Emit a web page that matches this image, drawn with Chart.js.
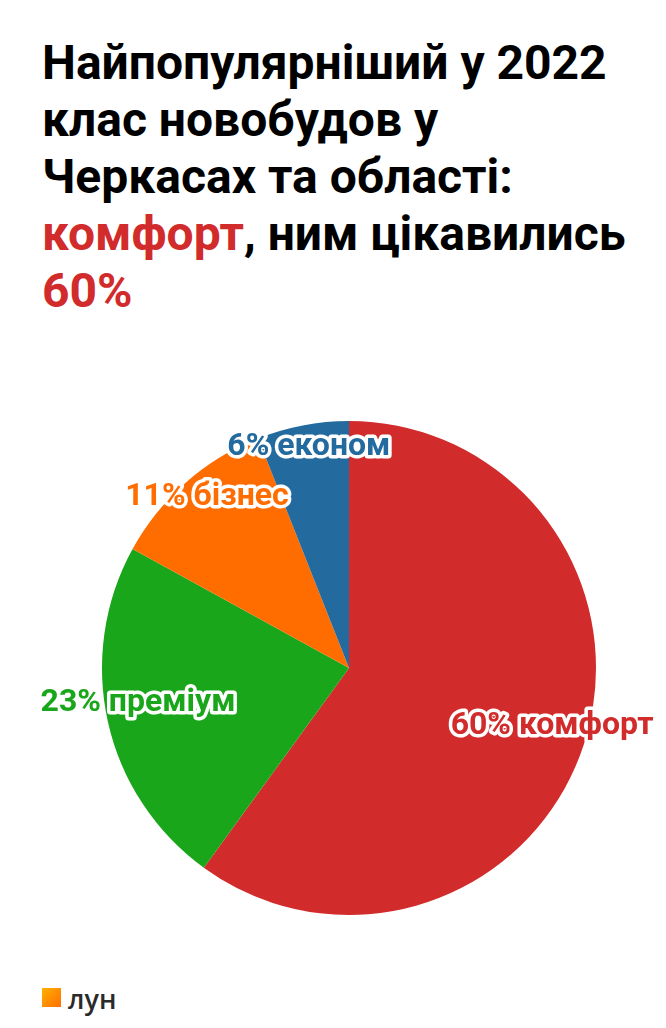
<!DOCTYPE html>
<html>
<head>
<meta charset="utf-8">
<script src="https://cdn.jsdelivr.net/npm/chart.js@4"></script>
<style>
  html, body { margin: 0; padding: 0; background: #fff; }
  body { width: 666px; height: 1028px; position: relative; overflow: hidden; font-family: Roboto, sans-serif; }
  #title { position: absolute; left: 42px; top: 34px; width: 624px; font-weight: 700; font-size: 48px; line-height: 57px; color: #000; white-space: nowrap; }
  #title .hl { color: #d12b2b; }
  #wrap { position: absolute; left: 0; top: 400px; width: 666px; height: 536px; }
  #logo { position: absolute; left: 42px; top: 988px; width: 19px; height: 19px; background: linear-gradient(135deg, #ffb000, #ff6f00); }
  #logotext { position: absolute; left: 68px; top: 980px; font-size: 27px; font-weight: 600; color: #2a2a2a; font-family: "Open Sans", Roboto, sans-serif; }
</style>
</head>
<body>
<div id="title">Найпопулярніший у 2022<br>клас новобудов у<br>Черкасах та області:<br><span class="hl">комфорт</span>, ним цікавились<br><span class="hl">60%</span></div>
<div id="wrap"><canvas id="c"></canvas></div>
<div id="logo"></div>
<div id="logotext">лун</div>
<script>
const categories = ["комфорт", "преміум", "бізнес", "економ"];
const shares = [60, 23, 11, 6];
const colors = ["#d12b2b", "#1aa61a", "#ff6d00", "#236a9f"];
// label placement: radius fraction and angle tweak (deg)
const labelRadius = [0.855, 0.866, 0.90, 0.91];
const labelAngleShift = [-2.1, 3.2, 1.7, 0.5];

const labelPlugin = {
  id: 'sliceLabels',
  afterDatasetsDraw(chart) {
    const ctx = chart.ctx;
    const meta = chart.getDatasetMeta(0);
    ctx.save();
    ctx.font = 'bold 32px Roboto';
    ctx.textAlign = 'center';
    ctx.textBaseline = 'middle';
    ctx.lineJoin = 'round';
    meta.data.forEach((arc, i) => {
      const p = arc.getProps(['x', 'y', 'startAngle', 'endAngle', 'outerRadius'], true);
      const mid = (p.startAngle + p.endAngle) / 2 + labelAngleShift[i] * Math.PI / 180;
      const r = p.outerRadius * labelRadius[i];
      const x = p.x + Math.cos(mid) * r;
      const y = p.y + Math.sin(mid) * r;
      const text = shares[i] + '% ' + categories[i];
      ctx.lineWidth = 7;
      ctx.strokeStyle = '#fff';
      ctx.strokeText(text, x, y);
      ctx.fillStyle = colors[i];
      ctx.fillText(text, x, y);
    });
    ctx.restore();
  }
};

new Chart(document.getElementById('c'), {
  type: 'pie',
  data: {
    labels: categories,
    datasets: [{ data: shares, backgroundColor: colors, borderWidth: 0 }]
  },
  options: {
    responsive: true,
    maintainAspectRatio: false,
    animation: false,
    layout: { padding: { left: 32, right: 0, top: 21, bottom: 21 } },
    plugins: { legend: { display: false }, tooltip: { enabled: false } }
  },
  plugins: [labelPlugin]
});
</script>
</body>
</html>
